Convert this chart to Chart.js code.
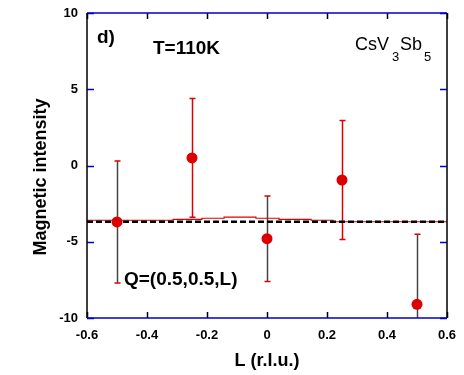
<!DOCTYPE html>
<html>
<head>
<meta charset="utf-8">
<script src="https://cdn.jsdelivr.net/npm/chart.js@4.4.0/dist/chart.umd.min.js"></script>
<style>
  html, body { margin: 0; padding: 0; background: #ffffff; }
  #wrap { width: 464px; height: 375px; position: relative; }
</style>
</head>
<body>
<div id="wrap"><canvas id="c" width="464" height="375"></canvas></div>
<script>
// ---- data ----
const L = [-0.5, -0.25, 0, 0.25, 0.5];
const intensity = [-3.7, 0.5, -4.8, -0.95, -9.1];
const errors = [4.0, 3.9, 2.8, 3.9, 4.6];
const errLineColors = ['#444444', '#dd0000', '#444444', '#dd0000', '#444444'];

const fitL = [-0.6, -0.313, -0.217, -0.143, -0.037, 0.04, 0.147, 0.22, 0.317, 0.6];
const fitI = [-3.69, -3.59, -3.53, -3.46, -3.38, -3.46, -3.53, -3.59, -3.69, -3.69];

const baseL = [-0.6, 0.6];
const baseI = [-3.69, -3.69];

const xTicks = [-0.6, -0.4, -0.2, 0, 0.2, 0.4, 0.6];
const yTicks = [-10, -5, 0, 5, 10];

const RED = '#dd0000';
const BLUE = '#0000cc';

const errorBarPlugin = {
  id: 'errorBars',
  beforeDatasetsDraw(chart) {
    const ctx = chart.ctx, xs = chart.scales.x, ys = chart.scales.y, ca = chart.chartArea;
    ctx.save();
    ctx.beginPath();
    ctx.rect(ca.left, ca.top, ca.right - ca.left, ca.bottom - ca.top);
    ctx.clip();
    for (let i = 0; i < L.length; i++) {
      const x = Math.round(xs.getPixelForValue(L[i])) + 0.5;
      const yHi = ys.getPixelForValue(intensity[i] + errors[i]);
      const yLo = ys.getPixelForValue(intensity[i] - errors[i]);
      ctx.strokeStyle = errLineColors[i];
      ctx.lineWidth = 1.5;
      ctx.beginPath();
      ctx.moveTo(x, yHi); ctx.lineTo(x, yLo);
      ctx.stroke();
      ctx.strokeStyle = RED;
      ctx.lineWidth = 1.5;
      ctx.beginPath();
      ctx.moveTo(x - 3, yHi); ctx.lineTo(x + 3, yHi);
      ctx.moveTo(x - 3, yLo); ctx.lineTo(x + 3, yLo);
      ctx.stroke();
    }
    ctx.restore();
  }
};

const framePlugin = {
  id: 'frame',
  afterDatasetsDraw(chart) {
    const ctx = chart.ctx, xs = chart.scales.x, ys = chart.scales.y, ca = chart.chartArea;
    ctx.save();
    ctx.lineWidth = 1.5;
    ctx.strokeStyle = BLUE;
    ctx.beginPath();
    yTicks.forEach(v => {
      const y = Math.round(ys.getPixelForValue(v)) + 0.5;
      ctx.moveTo(ca.left, y); ctx.lineTo(ca.left + 7, y);
      ctx.moveTo(ca.right, y); ctx.lineTo(ca.right - 7, y);
    });
    ctx.stroke();
    ctx.strokeStyle = '#000000';
    ctx.beginPath();
    xTicks.forEach(v => {
      const x = Math.round(xs.getPixelForValue(v)) + 0.5;
      ctx.moveTo(x, ca.top); ctx.lineTo(x, ca.top + 6);
      ctx.moveTo(x, ca.bottom); ctx.lineTo(x, ca.bottom - 6);
    });
    ctx.stroke();
    ctx.strokeStyle = '#000000';
    ctx.beginPath();
    ctx.moveTo(ca.left, ca.top); ctx.lineTo(ca.left, ca.bottom);
    ctx.moveTo(ca.right, ca.top); ctx.lineTo(ca.right, ca.bottom);
    ctx.stroke();
    ctx.strokeStyle = BLUE;
    ctx.beginPath();
    ctx.moveTo(ca.left, ca.top); ctx.lineTo(ca.right, ca.top);
    ctx.moveTo(ca.left, ca.bottom); ctx.lineTo(ca.right, ca.bottom);
    ctx.stroke();
    ctx.restore();
  },
  afterDraw(chart) {
    const ctx = chart.ctx;
    ctx.save();
    ctx.fillStyle = '#000000';
    ctx.textBaseline = 'middle';
    ctx.textAlign = 'left';
    ctx.font = 'bold 19px "Liberation Sans", Arial, sans-serif';
    ctx.fillText('d)', 97, 38);
    ctx.fillText('T=110K', 153, 49);
    ctx.fillText('Q=(0.5,0.5,L)', 124, 280);
    ctx.textBaseline = 'alphabetic';
    ctx.font = '18px "Liberation Sans", Arial, sans-serif';
    ctx.fillText('CsV', 355, 50);
    ctx.fillText('Sb', 400, 50);
    ctx.font = '13px "Liberation Sans", Arial, sans-serif';
    ctx.fillText('3', 392, 61);
    ctx.fillText('5', 424, 61);
    // y-axis title
    ctx.translate(41, 177);
    ctx.rotate(-Math.PI / 2);
    ctx.textAlign = 'center';
    ctx.textBaseline = 'middle';
    ctx.font = 'bold 18px "Liberation Sans", Arial, sans-serif';
    ctx.fillText('Magnetic intensity', 0, 0);
    ctx.restore();
  }
};

const tickFont = { family: '"Liberation Sans", Arial, sans-serif', size: 13, weight: 'bold' };
const titleFont = { family: '"Liberation Sans", Arial, sans-serif', size: 18, weight: 'bold' };

new Chart(document.getElementById('c'), {
  type: 'scatter',
  data: {
    datasets: [
      {
        type: 'line',
        data: baseL.map((x, i) => ({ x, y: baseI[i] })),
        borderColor: '#000000',
        borderWidth: 2.5,
        borderDash: [6, 3],
        pointRadius: 0,
        fill: false,
        order: 1
      },
      {
        type: 'line',
        data: fitL.map((x, i) => ({ x, y: fitI[i] })),
        borderColor: RED,
        borderWidth: 1.2,
        stepped: 'after',
        pointRadius: 0,
        fill: false,
        order: 2
      },
      {
        data: L.map((x, i) => ({ x, y: intensity[i] })),
        backgroundColor: RED,
        borderColor: RED,
        pointRadius: 5.5,
        pointBorderWidth: 0,
        order: 0
      }
    ]
  },
  options: {
    responsive: false,
    animation: false,
    devicePixelRatio: 1,
    layout: { padding: { top: 13, right: 17, left: 0, bottom: 0 } },
    plugins: { legend: { display: false }, tooltip: { enabled: false } },
    scales: {
      x: {
        type: 'linear', min: -0.6, max: 0.6,
        afterBuildTicks: s => { s.ticks = xTicks.map(v => ({ value: v })); },
        afterFit: s => { s.height = 57; s.paddingLeft = 0; s.paddingRight = 0; },
        grid: { display: false, drawTicks: false },
        border: { display: false },
        ticks: { font: tickFont, color: '#000000', padding: 10, maxRotation: 0,
                 callback: v => String(Math.round(v * 10) / 10) },
        title: { display: true, text: 'L (r.l.u.)', font: titleFont, color: '#000000',
                 padding: { top: 0, bottom: 3 } }
      },
      y: {
        type: 'linear', min: -10, max: 10,
        afterBuildTicks: s => { s.ticks = yTicks.map(v => ({ value: v })); },
        afterFit: s => { s.width = 87; s.paddingTop = 0; s.paddingBottom = 0; },
        grid: { display: false, drawTicks: false },
        border: { display: false },
        ticks: { font: tickFont, color: '#000000', padding: 9 },
        title: { display: false }
      }
    }
  },
  plugins: [errorBarPlugin, framePlugin]
});
</script>
</body>
</html>
